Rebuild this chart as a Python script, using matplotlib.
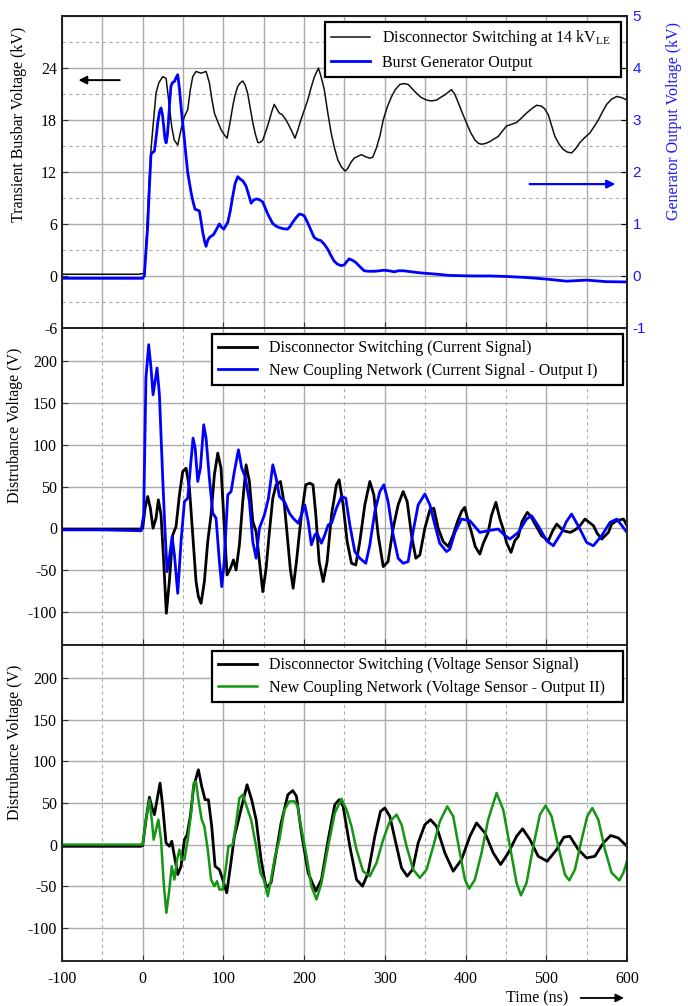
import numpy as np
import matplotlib
matplotlib.use('Agg')
import matplotlib.pyplot as plt
from matplotlib.ticker import MultipleLocator
from matplotlib.lines import Line2D

plt.rcParams['font.family'] = 'Liberation Serif'
plt.rcParams['mathtext.fontset'] = 'custom'
plt.rcParams['mathtext.rm'] = 'Liberation Serif'
plt.rcParams['axes.unicode_minus'] = False

# ---- data (time in ns) ----
# top: busbar voltage (kV, left axis)
busbar_kv = [(-100, 0.2), (-50, 0.2), (-5, 0.2), (2, 0.3), (5, 5), (8, 11), (10.3, 14.6), (13, 17.5),
             (16.5, 21.1), (20, 22.3), (24.8, 23.0), (29, 22.8), (33, 19.6), (36, 17.2), (39, 15.7),
             (43.4, 15.1), (47.5, 16.9), (51.7, 18.4), (55.8, 19.2), (59, 21.5), (62, 23.0), (66, 23.6),
             (72.3, 23.4), (78.5, 23.6), (82.6, 22.3), (85.5, 20.5), (88.8, 18.8), (93, 17.8), (97, 16.9),
             (101, 16.3), (104.5, 15.9), (108, 17.6), (111.6, 19.6), (114.5, 20.9), (117.8, 21.9),
             (121, 22.3), (124, 22.5), (127, 22.0), (130, 21.1), (133, 19.5), (136.4, 17.7), (139.5, 16.4),
             (142.6, 15.4), (145.5, 15.4), (148.8, 15.7), (153, 16.8), (157, 18.0), (160, 19.0), (163, 19.8),
             (166, 19.3), (169.2, 18.8), (173, 18.6), (177.5, 18.0), (180.5, 17.5), (183.7, 16.9),
             (188.7, 15.9), (192, 16.8), (196, 18.0), (200, 19.1), (204.5, 20.3), (208.5, 21.7),
             (212.8, 23.0), (217.8, 24.0), (221, 23.0), (225, 21.5), (229, 19.0), (233.5, 16.5),
             (237.5, 14.8), (241.7, 13.4), (246, 12.6), (250.8, 12.1), (254, 12.4), (258, 13.1), (262, 13.6),
             (266.5, 13.8), (271, 14.0), (275, 13.8), (281, 13.6), (285, 13.7), (289.7, 14.8), (294, 16.2),
             (298, 18.0), (303, 19.5), (308.3, 20.7), (313, 21.5), (318.6, 22.1), (324, 22.2), (329, 22.1),
             (334, 21.6), (339, 21.1), (345, 20.6), (351.6, 20.3), (358, 20.2), (364, 20.3), (369, 20.6),
             (374.4, 20.9), (378.5, 21.2), (382.6, 21.5), (386.5, 21.0), (391, 20.0), (396, 18.8),
             (401, 17.7), (406, 16.6), (411.6, 15.7), (416, 15.3), (419.8, 15.2), (425, 15.3), (430, 15.5),
             (435, 15.8), (440.5, 16.1), (445.5, 16.7), (450.8, 17.3), (457, 17.5), (463, 17.7), (469, 18.2),
             (475.6, 18.8), (482, 19.3), (488, 19.7), (494, 19.6), (498, 19.3), (502.5, 18.6), (506.5, 17.4),
             (510.7, 16.1), (516, 15.2), (521, 14.6), (526, 14.3), (531.4, 14.2), (536.5, 14.7),
             (541.7, 15.4), (548, 16.0), (554, 16.5), (559, 17.2), (564.5, 18.0), (570, 19.0),
             (574.8, 19.8), (581, 20.4), (587, 20.7), (593, 20.6), (600, 20.3)]

# top: burst generator output (kV, right axis)
burst_kv = [(-100, -0.045), (-50, -0.045), (0, -0.045), (2, 0.0), (4, 0.45), (6.2, 0.96), (8.3, 1.7),
            (10.3, 2.34), (12.5, 2.38), (14.5, 2.4), (16.5, 2.65), (18.6, 2.94), (20.7, 3.15), (22.7, 3.23),
            (24.5, 3.1), (26, 2.88), (27.5, 2.65), (29, 2.56), (30.5, 2.7), (31.8, 2.94), (33.5, 3.35),
            (35, 3.65), (37, 3.72), (39.3, 3.74), (41.5, 3.82), (43.4, 3.87), (45.5, 3.6), (47.5, 3.26),
            (49.5, 2.95), (51.7, 2.62), (53.7, 2.3), (55.8, 1.99), (58, 1.78), (60, 1.6), (62.5, 1.42),
            (64.9, 1.28), (67.5, 1.27), (70.2, 1.25), (72.3, 1.05), (74.4, 0.84), (76.5, 0.68), (78.5, 0.57),
            (80.5, 0.68), (82.6, 0.74), (85.5, 0.77), (88, 0.8), (91.5, 0.9), (95, 1.0), (97.5, 0.94),
            (100.4, 0.9), (105.4, 1.03), (108.5, 1.25), (111.6, 1.54), (114.5, 1.78), (117.8, 1.91),
            (121, 1.86), (124, 1.83), (128, 1.73), (131, 1.58), (134.3, 1.4), (137.5, 1.46), (140.5, 1.48),
            (144.5, 1.47), (148.8, 1.42), (152, 1.3), (155, 1.19), (158, 1.1), (161, 1.01), (165, 0.96),
            (169.2, 0.93), (174, 0.91), (179.5, 0.9), (182.5, 0.95), (185.7, 1.03), (190, 1.12), (194, 1.19),
            (197, 1.18), (200, 1.16), (203, 1.07), (206.2, 0.96), (209.3, 0.85), (212.4, 0.74), (216.5, 0.7),
            (220.7, 0.68), (225, 0.61), (229, 0.52), (233, 0.4), (237, 0.29), (241, 0.23), (245.5, 0.2),
            (249.6, 0.21), (252.5, 0.27), (255.8, 0.33), (260, 0.3), (264, 0.26), (269, 0.18), (274.4, 0.1),
            (280, 0.09), (286.8, 0.09), (293.8, 0.1), (299, 0.11), (305, 0.1), (311.6, 0.08), (317, 0.1),
            (322.7, 0.1), (333, 0.08), (343.4, 0.06), (360, 0.04), (380.6, 0.01), (409.5, 0.0), (430, 0.0),
            (450.8, -0.01), (475.6, -0.03), (500.4, -0.06), (525, -0.1), (550, -0.08), (574.8, -0.11),
            (600, -0.115)]

# middle: current signal (V)
current_disc = [(-100, -1), (-50, -1), (-2, -1), (0, 0), (2.9, 24), (6.2, 38), (9.5, 24), (12.8, 0),
                (16.5, 12), (19.4, 34), (22.7, 16), (26, -40), (29.3, -102), (33, -64), (37.2, -8),
                (41.3, 2), (45.5, 40), (49.6, 68), (53.7, 72), (57.9, 48), (62, -8), (66.1, -64), (69, -82),
                (72.3, -90), (76.4, -64), (80.6, -16), (84.7, 16), (88.8, 64), (93, 90), (97, 72), (101.2, 0),
                (104.5, -56), (108.7, -48), (112.4, -38), (115.7, -50), (119.8, -20), (124, 32), (128.1, 76),
                (132.2, 56), (136.4, 8), (140.5, -4), (144.6, -40), (148.8, -76), (152.9, -48), (157, -4),
                (161.2, 36), (165.3, 52), (170.7, 56), (175.6, 28), (179.8, -16), (183, -50), (186.4, -72),
                (190.5, -40), (193.5, -12), (196.7, 16), (202, 52), (207, 54), (211, 52), (214.5, 16),
                (218.6, -40), (223.6, -64), (228.5, -40), (233.9, 16), (240, 52), (243.4, 58), (248.3, 28),
                (253.3, -16), (258.7, -42), (264, -44), (269, -16), (275.2, 28), (281.4, 56), (286.4, 40),
                (291.7, -8), (298, -46), (304, -40), (310.3, 0), (316.5, 28), (322.7, 44), (327.7, 32),
                (333, -8), (338.4, -36), (343.4, -32), (349.6, 0), (355.8, 22), (360.7, 24), (366, 0),
                (372.3, -16), (378.5, -22), (384.7, -8), (390, 8), (395, 20), (399, 25), (403.3, 8),
                (407.4, -5), (412, -22), (417.7, -31), (422, -18), (428, -5), (432, 15), (437.6, 31),
                (442.6, 11), (446.7, -1), (451, -18), (456.3, -29), (461, -15), (465.3, -10), (470, 8),
                (476.5, 19), (481, 14), (486, 5), (494.3, -9), (502.6, -15), (508, -3), (513, 5), (521.2, -3),
                (529.5, -5), (534, -3), (540, 1), (548, 11), (558.5, 3), (563, -6), (568.8, -13), (577, -5),
                (581, 5), (587.5, 9), (595.7, 11), (600, 3)]

current_net = [(-100, -2), (-50, -2), (-2, -3), (1.2, 16), (4, 180), (7.4, 220), (10.3, 192), (12.8, 160),
               (15.3, 176), (17.8, 192), (20.7, 160), (24.8, 60), (27.5, 0), (30.2, -52), (33.5, -32),
               (36.4, -10), (39.3, -32), (43.4, -78), (47.5, -16), (51.7, 32), (55.8, 36), (59, 72),
               (62.4, 108), (65, 96), (68.2, 56), (71.5, 72), (75.6, 124), (78.5, 108), (82.6, 60),
               (86.8, 18), (90.9, 12), (95, -40), (98, -70), (101, -40), (105.4, 40), (109.5, 44),
               (113.6, 68), (118.6, 94), (122.7, 72), (126.9, 62), (132.2, 32), (136.4, -16), (140.5, -36),
               (144.6, 0), (150.8, 16), (155.8, 36), (161.2, 76), (165.3, 60), (169.4, 38), (175.6, 32),
               (181.8, 18), (186.4, 12), (192.6, 6), (196.7, 16), (200.8, 28), (205, 8), (209, -20),
               (213.2, -8), (216, -6), (221.5, -18), (225.6, -8), (229.8, 4), (234, 6), (240, 24),
               (246.3, 38), (251.6, 36), (256.6, 4), (262.8, -28), (269, -36), (276.4, -42), (281.4, -20),
               (287.6, 20), (293.8, 44), (298.8, 52), (304, 32), (310.3, -8), (316.5, -36), (322.7, -42),
               (328.9, -40), (335, -4), (341.3, 28), (349.6, 41), (355.8, 28), (362, 4), (368, -18),
               (376.4, -28), (380.6, -25), (386.8, -5), (395, 11), (405.3, 9), (417.7, -5), (428, -3),
               (440.5, -1), (448, -8), (455, -13), (465.3, -5), (475.6, 11), (481.8, 15), (490, 3),
               (500.4, -15), (508.7, -21), (519, -5), (525, 8), (531.4, 17), (541.7, -1), (550, -17),
               (558.3, -21), (568.6, -9), (579, 7), (587.5, 11), (600, -5)]

# bottom: voltage sensor signal (V)
voltage_disc = [(-100, -2), (-50, -2), (-2, -2), (0, -1), (4.1, 30), (8.3, 57), (11.2, 46), (14.5, 36),
                (17.8, 54), (21.5, 74), (24.8, 46), (28.9, 2), (33, -2), (36, 4), (39.3, -14), (43.4, -36),
                (47.5, -26), (51.7, 6), (55, 12), (59, 34), (63.2, 70), (69, 90), (73.1, 70), (77.3, 54),
                (81.4, 54), (85.5, 22), (89.7, -26), (95, -30), (99.2, -42), (104.1, -58), (108.7, -26),
                (113.6, 10), (117.8, 26), (122.7, 46), (129.3, 72), (135, 54), (140.5, 30), (146.7, -18),
                (152.9, -52), (159, -46), (165.3, -10), (171.5, 26), (179.8, 60), (186, 65), (190.5, 58),
                (196.7, 14), (205, -34), (214.5, -56), (221.5, -42), (229.8, 6), (238, 48), (243.4, 54),
                (248.3, 46), (256.6, -2), (264.9, -42), (272.3, -50), (279.3, -34), (287.6, 10), (294.6, 40),
                (300, 44), (306.2, 34), (313.6, 2), (320.7, -28), (327.7, -38), (334.3, -30), (341.3, 2),
                (349.6, 24), (356.6, 30), (364, 22), (374.4, -10), (384.7, -32), (395, -18), (405.4, 10),
                (413.6, 26), (424, 14), (434.3, -10), (443.4, -24), (452.9, -10), (463.2, 10), (470.7, 19),
                (479.8, 6), (490, -14), (501.2, -20), (512.8, -6), (521.9, 9), (529.3, 10), (539.7, -6),
                (550, -16), (560.3, -14), (570.7, 2), (579.8, 11), (589.3, 8), (600, -2)]

voltage_net = [(-100, 0), (-50, 0), (-2, 0), (0, 0), (4.1, 30), (8.3, 54), (11.2, 30), (13.6, 6),
               (16.5, 18), (19.4, 30), (22.7, 6), (26, -46), (29.3, -82), (33, -54), (36, -26), (39.3, -42),
               (42.6, -18), (45.5, -6), (48.3, -18), (51.7, -18), (55.8, 6), (60, 38), (63.2, 74), (66, 76),
               (69, 54), (73.1, 30), (76.4, 22), (80.6, -6), (84.7, -42), (88.8, -50), (92.1, -44), (95, -54),
               (99.2, -54), (103.3, -26), (106.2, -2), (111.6, 0), (115.7, 26), (119.8, 56), (124, 60),
               (128, 48), (134.3, 30), (140.5, -2), (145.9, -34), (150, -42), (155, -62), (159, -42),
               (164, -14), (169.4, 6), (175.6, 42), (181.8, 52), (188, 52), (192.1, 46), (194.6, 30),
               (203, -14), (209, -50), (215.3, -66), (221.5, -46), (229.8, -2), (238, 38), (246.3, 55),
               (252.5, 42), (258.7, 22), (264.9, -6), (273, -32), (281.4, -38), (289.7, -22), (297.9, 6),
               (306.2, 28), (314.5, 36), (320.7, 24), (326.9, -2), (335.1, -30), (343.4, -40), (351.7, -30),
               (360, -2), (368.2, 28), (377.3, 46), (384.7, 34), (393, -10), (399.2, -42), (404.5, -53),
               (411.6, -42), (419.8, -10), (428, 30), (438.4, 62), (446.7, 42), (455, -2), (463.2, -46),
               (468.6, -61), (475.6, -46), (483.9, -2), (492.1, 36), (499.2, 47), (506.6, 34), (514.9, -2),
               (523.1, -36), (528.5, -43), (535.5, -30), (543.8, 6), (550.8, 34), (557, 44), (564.5, 30),
               (572.7, -6), (581, -34), (590.5, -43), (595.5, -34), (600, -20)]

x_ticks = [-100, 0, 100, 200, 300, 400, 500, 600]
left_ticks_top = [-6, 0, 6, 12, 18, 24]
right_ticks_top = [-1, 0, 1, 2, 3, 4, 5]
v_ticks = [-100, -50, 0, 50, 100, 150, 200]

GRID = '#ababab'
FS = 11.5

fig = plt.figure(figsize=(6.88, 10.06), dpi=100)
ax1 = fig.add_axes([0.0901, 0.6740, 0.8212, 0.3101])
ax2 = fig.add_axes([0.0901, 0.3588, 0.8212, 0.3152])
ax3 = fig.add_axes([0.0901, 0.0447, 0.8212, 0.3141])

for ax in (ax1, ax2, ax3):
    ax.set_xlim(-100, 600)
    ax.set_xticks(x_ticks)
    ax.xaxis.set_minor_locator(MultipleLocator(50))
    ax.tick_params(which='both', direction='in', labelsize=FS, length=4, width=0.8, color='#333333')
    ax.tick_params(which='minor', length=0)
    ax.tick_params(axis='x', pad=7)
    ax.set_axisbelow(True)
    for s in ax.spines.values():
        s.set_linewidth(1.4)
        s.set_color('#222222')
    ax.grid(True, which='major', color=GRID, lw=1.0, ls='-')


def box_legend(ax, handles, labels, x0, w):
    leg = ax.legend(handles, labels, loc='upper left', bbox_to_anchor=(x0, 0.5, w, 0.481),
                    mode='expand', borderaxespad=0, fontsize=FS, fancybox=False, edgecolor='black',
                    framealpha=1, handlelength=2.4, labelspacing=0.4, borderpad=0.4)
    leg.get_frame().set_linewidth(1.6)
    return leg


# --- top panel ---
a = np.array(busbar_kv)
b = np.array(burst_kv)
ax1.plot(a[:, 0], a[:, 1], color='#111111', lw=1.1)
ax1.set_ylim(-6, 30)
ax1.set_yticks(left_ticks_top)
ax1.yaxis.set_minor_locator(MultipleLocator(3))
ax1.xaxis.grid(True, which='minor', color=GRID, lw=1.0, ls='-')
ax1.yaxis.grid(True, which='minor', color=GRID, lw=0.8, ls=(0, (3, 3)))
ax1.axhline(30, color=GRID, lw=1.0)
ax1.tick_params(labelbottom=False)
ax1.set_ylabel('Transient Busbar Voltage (kV)', fontsize=FS)
ax1.yaxis.set_label_coords(-0.062, 0.654)

ax1r = ax1.twinx()
ax1r.plot(b[:, 0], b[:, 1], color='#0000ff', lw=2.0)
ax1r.set_ylim(-1, 5)
ax1r.set_yticks(right_ticks_top)
ax1r.tick_params(direction='in', length=4, labelsize=11, labelcolor='#1a1aff',
                 labelfontfamily='Liberation Sans', pad=4)
ax1r.set_ylabel('Generator Output Voltage (kV)', fontsize=FS, color='#1a1aff')
ax1r.yaxis.set_label_coords(1.069, 0.663)
for s in ax1r.spines.values():
    s.set_linewidth(1.4)
    s.set_color('#222222')

ax1.annotate('', xy=(-83, 22.6), xytext=(-25, 22.6),
             arrowprops=dict(arrowstyle='-|>', color='black', lw=1.4, mutation_scale=12))
ax1.annotate('', xy=(589, 10.6), xytext=(476, 10.6),
             arrowprops=dict(arrowstyle='-|>', color='#0000ff', lw=1.6, mutation_scale=12))

h1 = [Line2D([], [], color='#111111', lw=1.1), Line2D([], [], color='#0000ff', lw=2.0)]
box_legend(ax1r, h1, ['Disconnector Switching at 14 kV$_{\\mathrm{LE}}$', 'Burst Generator Output'],
           0.4655, 0.5239)

# --- middle panel ---
c = np.array(current_disc)
d = np.array(current_net)
l1, = ax2.plot(c[:, 0], c[:, 1], color='black', lw=2.0)
l2, = ax2.plot(d[:, 0], d[:, 1], color='#0000ff', lw=2.0)
ax2.set_ylim(-140, 240)
ax2.set_yticks(v_ticks)
ax2.xaxis.grid(True, which='minor', color=GRID, lw=0.8, ls=(0, (3, 3)))
ax2.tick_params(labelbottom=False)
ax2.set_ylabel('Distrubance Voltage (V)', fontsize=FS)
ax2.yaxis.set_label_coords(-0.069, 0.693)
box_legend(ax2, [l1, l2], ['Disconnector Switching (Current Signal)',
                           'New Coupling Network (Current Signal - Output I)'], 0.2655, 0.7274)

# --- bottom panel ---
e = np.array(voltage_disc)
f = np.array(voltage_net)
l3, = ax3.plot(e[:, 0], e[:, 1], color='black', lw=2.0)
l4, = ax3.plot(f[:, 0], f[:, 1], color='#149614', lw=1.8)
ax3.set_ylim(-140, 240)
ax3.set_yticks(v_ticks)
ax3.xaxis.grid(True, which='minor', color=GRID, lw=0.8, ls=(0, (3, 3)))
ax3.set_ylabel('Distrubance Voltage (V)', fontsize=FS)
ax3.yaxis.set_label_coords(-0.069, 0.693)
box_legend(ax3, [l3, l4], ['Disconnector Switching (Voltage Sensor Signal)',
                           'New Coupling Network (Voltage Sensor - Output II)'], 0.2655, 0.7274)

fig.text(0.7805, 0.008, 'Time (ns)', fontsize=FS, ha='center', va='center')
fig.patches.append(matplotlib.patches.FancyArrowPatch((0.840, 0.008), (0.911, 0.008),
                                                      transform=fig.transFigure, arrowstyle='-|>',
                                                      mutation_scale=12, color='black', lw=1.3))

fig.savefig('out.png', dpi=100)
